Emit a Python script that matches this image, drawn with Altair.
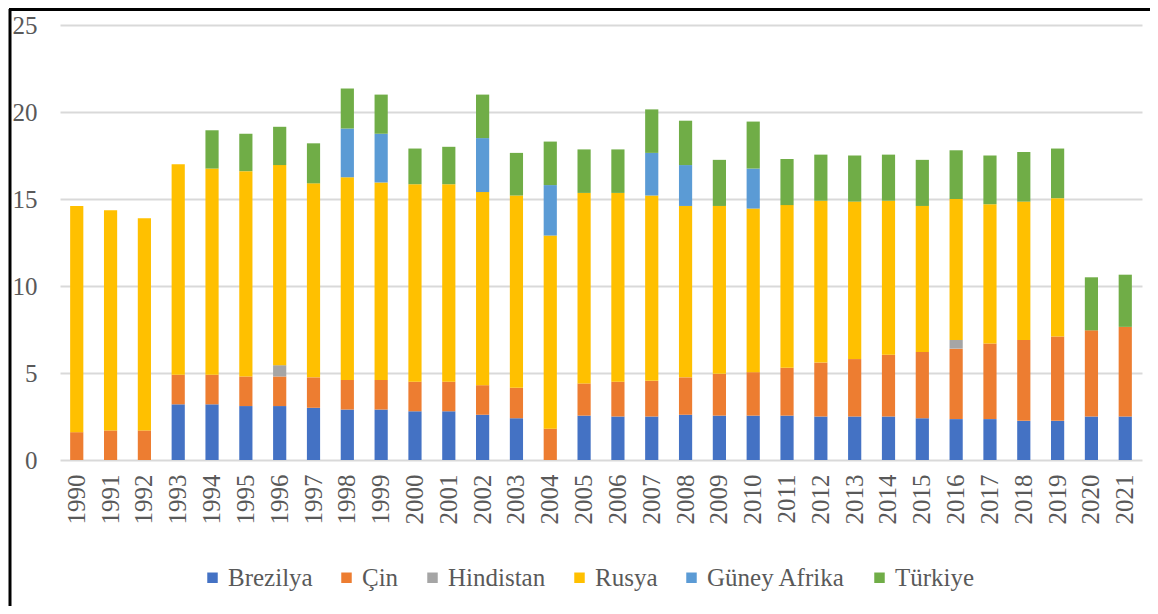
import altair as alt
import pandas as pd

years = [str(y) for y in range(1990, 2022)]
series = ["Brezilya", "Çin", "Hindistan", "Rusya", "Güney Afrika", "Türkiye"]
colors = ["#4472C4", "#ED7D31", "#A5A5A5", "#FFC000", "#5B9BD5", "#70AD47"]

brezilya = [0, 0, 0, 3.2, 3.2, 3.1, 3.1, 3.0, 2.9, 2.9, 2.8, 2.8, 2.6, 2.4, 0, 2.55,
            2.5, 2.5, 2.6, 2.55, 2.55, 2.55, 2.5, 2.5, 2.5, 2.4, 2.35, 2.35, 2.25, 2.25, 2.5, 2.5]
cin = [1.6, 1.7, 1.7, 1.7, 1.7, 1.7, 1.7, 1.75, 1.7, 1.7, 1.7, 1.7, 1.7, 1.75, 1.8, 1.85,
       2.0, 2.05, 2.15, 2.4, 2.5, 2.75, 3.1, 3.3, 3.55, 3.8, 4.05, 4.35, 4.65, 4.85, 4.95, 5.15]
hindistan = [0, 0, 0, 0, 0, 0, 0.65, 0, 0, 0, 0, 0, 0, 0, 0, 0,
             0, 0, 0, 0, 0, 0, 0, 0, 0, 0, 0.5, 0, 0, 0, 0, 0]
rusya = [13.0, 12.65, 12.2, 12.1, 11.85, 11.8, 11.5, 11.15, 11.65, 11.35, 11.35, 11.35, 11.1, 11.05, 11.1, 10.95,
         10.85, 10.65, 9.85, 9.65, 9.4, 9.35, 9.3, 9.05, 8.85, 8.4, 8.1, 8.0, 7.95, 7.95, 0, 0]
guney_afrika = [0, 0, 0, 0, 0, 0, 0, 0, 2.8, 2.8, 0, 0, 3.1, 0, 2.9, 0,
                0, 2.45, 2.35, 0, 2.3, 0, 0, 0, 0, 0, 0, 0, 0, 0, 0, 0]
turkiye = [0, 0, 0, 0, 2.2, 2.15, 2.2, 2.3, 2.3, 2.25, 2.05, 2.15, 2.5, 2.45, 2.5, 2.5,
           2.5, 2.5, 2.55, 2.65, 2.7, 2.65, 2.65, 2.65, 2.65, 2.65, 2.8, 2.8, 2.85, 2.85, 3.05, 3.0]

values = [brezilya, cin, hindistan, rusya, guney_afrika, turkiye]
rows = []
for si, (name, vals) in enumerate(zip(series, values)):
    for y, v in zip(years, vals):
        if v > 0:
            rows.append({"Yıl": y, "Seri": name, "Değer": v, "idx": si})
df = pd.DataFrame(rows)

FONT = "Liberation Serif"
GRAY = "#595959"

bars = alt.Chart(df).mark_bar().encode(
    x=alt.X("Yıl:N", sort=years, title=None,
            scale=alt.Scale(paddingInner=0.61, paddingOuter=0.3),
            axis=alt.Axis(labelAngle=-90, labelFontSize=25, labelFont=FONT,
                          labelColor=GRAY, ticks=False, domain=False,
                          labelPadding=14, grid=False)),
    y=alt.Y("Değer:Q", title=None, stack="zero",
            scale=alt.Scale(domain=[0, 25], nice=False),
            axis=alt.Axis(values=[0, 5, 10, 15, 20, 25], labelFontSize=25,
                          labelFont=FONT, labelColor=GRAY, ticks=False,
                          domain=False, labelPadding=23, gridColor="#d9d9d9",
                          gridWidth=2)),
    color=alt.Color("Seri:N", sort=series,
                    scale=alt.Scale(domain=series, range=colors),
                    legend=alt.Legend(title=None, orient="none", direction="horizontal",
                                      legendX=140, legendY=540, symbolType="square",
                                      symbolSize=110, symbolStrokeWidth=0,
                                      labelFont=FONT, labelFontSize=25,
                                      labelColor=GRAY, labelOffset=3,
                                      columnPadding=21, padding=0)),
    order=alt.Order("idx:Q", sort="ascending"),
)

frame_df = pd.DataFrame({"k": [0]})
left_border = alt.Chart(frame_df).mark_rule(color="black", strokeWidth=3).encode(
    x=alt.value(-50), y=alt.value(-16), y2=alt.value(620))
top_border = alt.Chart(frame_df).mark_rule(color="black", strokeWidth=3).encode(
    x=alt.value(-51), x2=alt.value(1150), y=alt.value(-15.5))

chart = alt.layer(bars, left_border, top_border).properties(
    width=1082, height=435,
    autosize=alt.AutoSizeParams(type="none"),
    padding={"left": 52, "top": 17, "right": 8, "bottom": 146},
).configure(background="white",
            view=alt.ViewConfig(stroke="transparent", strokeWidth=0),
            style={"cell": {"stroke": "transparent", "strokeWidth": 0}})

chart.save("out.html", embed_options={"renderer": "svg", "actions": False})
